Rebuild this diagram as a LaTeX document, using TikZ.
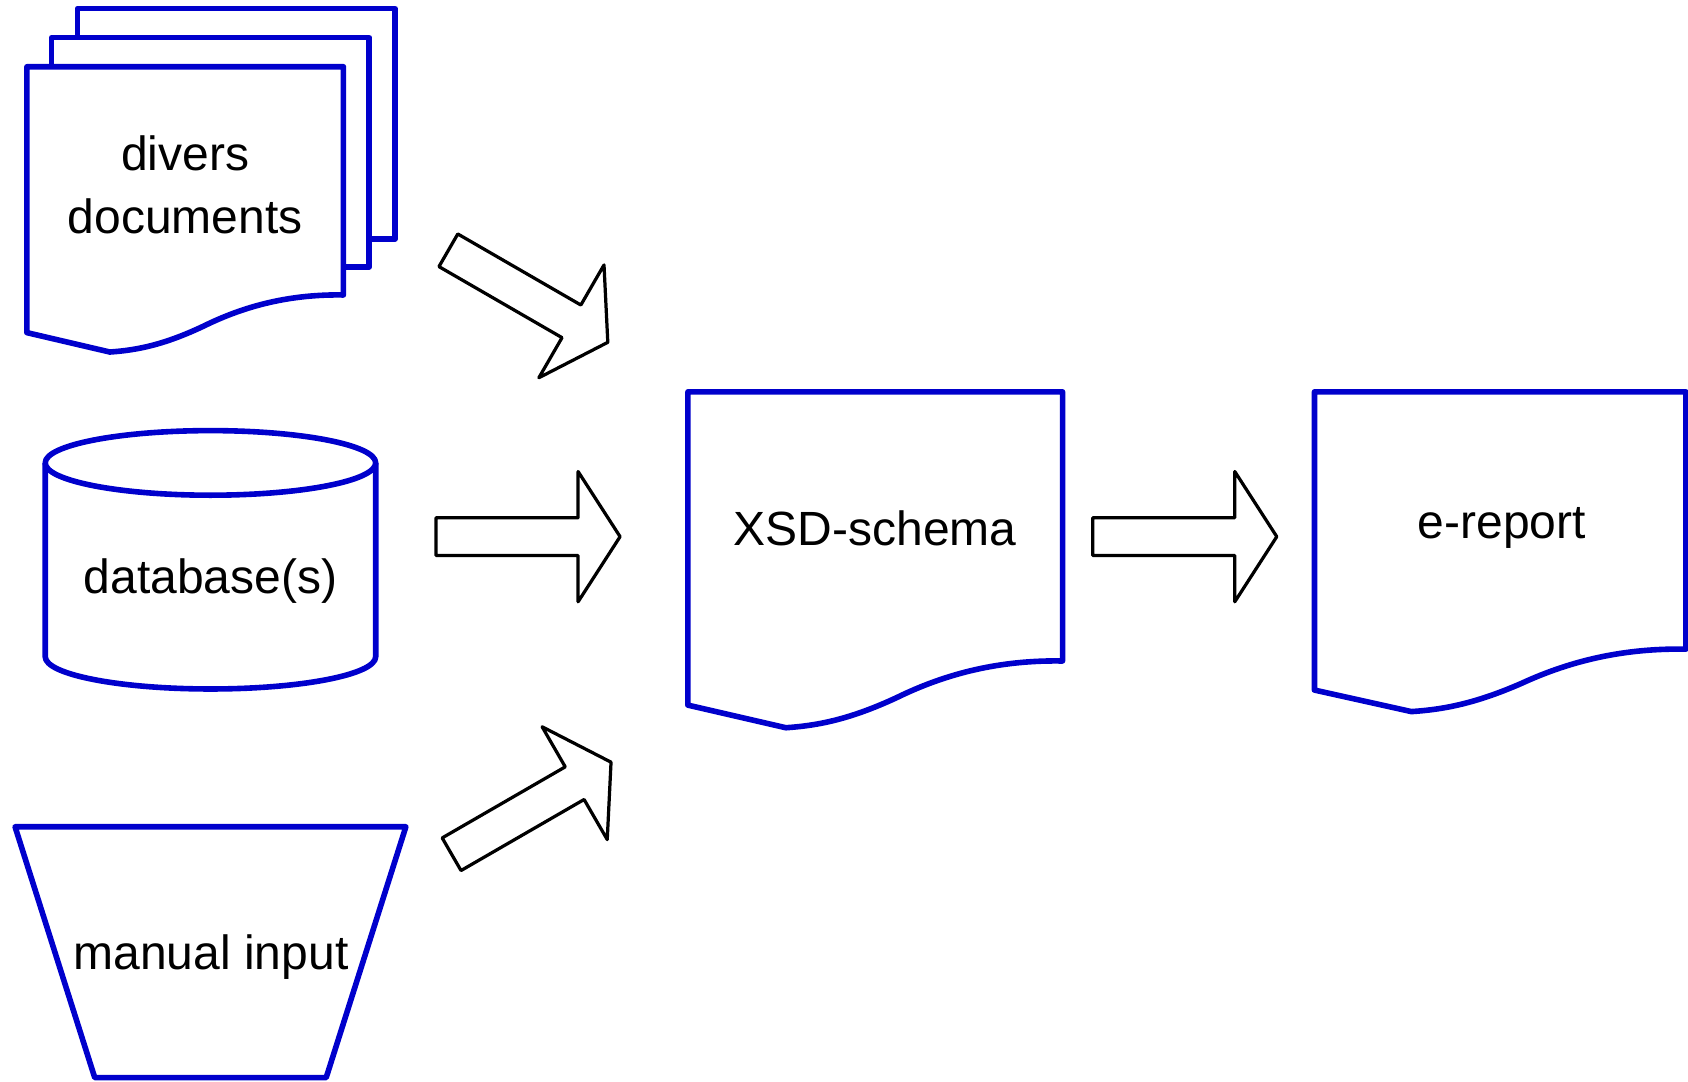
\documentclass[tikz,border=0pt]{standalone}
\usepackage{fontspec}
\setmainfont{Liberation Sans}
\definecolor{flowblue}{RGB}{0,0,204}
\begin{document}
\begin{tikzpicture}[x=0.5pt,y=-0.5pt,
  flowshape/.style={draw=flowblue, line width=2.6pt, fill=white, line join=round},
  blockarrow/.style={draw=black, line width=1.5pt, fill=white, line join=round},
  lbl/.style={font=\fontsize{22.3}{29.5}\selectfont, text=black, inner sep=0pt, anchor=base},
  fatarrow/.pic={
    \draw[blockarrow] (0,-17.5) -- (132,-17.5) -- (132,-60.5) -- (171,0)
      -- (132,60.5) -- (132,17.5) -- (0,17.5) -- cycle;
  }]
\useasboundingbox (0,0) rectangle (1568,1005);

% stack of documents
\draw[flowshape] (72,8) rectangle (367,222);
\draw[flowshape] (48,35) rectangle (343,248);
\draw[flowshape] (25,62) -- (319,62) -- (319,274)
  .. controls (270.8,273.2) and (228.7,283.4) .. (189,303)
  .. controls (152.6,320.2) and (127.4,325.3) .. (102,327) -- (25,309) -- cycle;
\node[lbl] (docsA) at (172,158) {divers};
\node[lbl] (docsB) at (172,217) {documents};

% database cylinder
\draw[flowshape] (42,430) -- (42,610)
  arc[start angle=180, end angle=0, x radius=153.5, y radius=30] -- (349,430);
\draw[flowshape] (195.5,430) ellipse[x radius=153.5, y radius=30];
\node[lbl] (db) at (195.5,551) {database(s)};

% manual input trapezoid
\draw[flowshape] (14,768) -- (377,768) -- (303,1001) -- (88,1001) -- cycle;
\node[lbl] (manual) at (196,901) {manual input};

% XSD schema document
\draw[flowshape] (639,364) -- (987,364) -- (987,614)
  .. controls (930,613) and (880,625) .. (833,648)
  .. controls (790,668) and (760,674) .. (730,676) -- (639,655) -- cycle;
\node[lbl] (xsd) at (813,507) {XSD-schema};

% e-report document
\draw[flowshape] (1221,364) -- (1566,364) -- (1566,603)
  .. controls (1509.4,602) and (1459.9,613.3) .. (1413.3,634.8)
  .. controls (1370.4,653.5) and (1340.8,659.1) .. (1311,661) -- (1221,641) -- cycle;
\node[lbl] (erep) at (1395,500) {e-report};

% block arrows
\pic (arrDocs) [rotate=-30] at (416.5,232.5) {fatarrow};
\pic (arrDb) at (405,498.5) {fatarrow};
\pic (arrManual) [rotate=30] at (419.5,793.5) {fatarrow};
\pic (arrOut) at (1015,498.5) {fatarrow};
\end{tikzpicture}
\end{document}
